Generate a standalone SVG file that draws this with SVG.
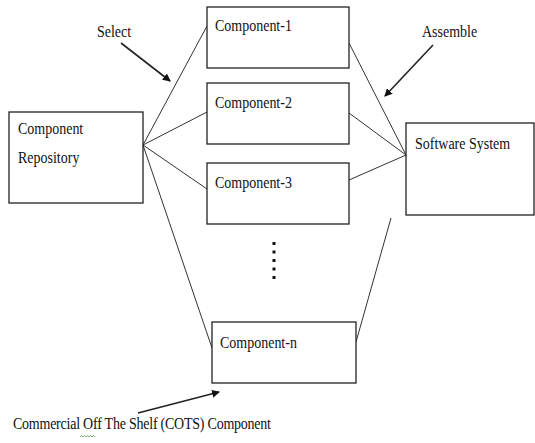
<svg xmlns="http://www.w3.org/2000/svg" width="535" height="443" viewBox="0 0 535 443">
<style>
.box{fill:#fff;stroke:#222;stroke-width:1.3}
text{font-family:'Liberation Serif','DejaVu Serif',serif;font-size:14px;fill:#111}
.ln{stroke:#333;stroke-width:1;fill:none}
.ar{stroke:#222;stroke-width:1.6;fill:none;marker-end:url(#ah)}
</style>
<defs>
<marker id="ah" markerWidth="8" markerHeight="8" refX="7" refY="4" orient="auto" markerUnits="userSpaceOnUse" viewBox="0 0 8 8">
<path d="M0,0 L8,4 L0,8 z" fill="#111"/>
</marker>
</defs>
<rect width="535" height="443" fill="#fff"/>
<g id="connectors">
<line class="ln" x1="143" y1="145" x2="207" y2="26"/>
<line class="ln" x1="143" y1="145" x2="207" y2="112"/>
<line class="ln" x1="143" y1="145" x2="207" y2="189"/>
<line class="ln" x1="143" y1="145" x2="212" y2="348"/>
<line class="ln" x1="349" y1="43" x2="406" y2="155"/>
<line class="ln" x1="349" y1="113" x2="406" y2="155"/>
<line class="ln" x1="349" y1="180" x2="406" y2="155"/>
<line class="ln" x1="356" y1="342" x2="391" y2="218"/>
<line class="ar" x1="121" y1="43" x2="170" y2="81"/>
<line class="ar" x1="433" y1="45" x2="385" y2="96"/>
<line class="ar" x1="138" y1="413" x2="219" y2="392"/>
<line x1="274" y1="242" x2="274" y2="283" stroke="#111" stroke-width="3" stroke-dasharray="3 5.5"/>
</g>
<g id="repo"><rect class="box" x="9" y="112" width="134" height="91"/><text transform="translate(18,134) scale(1,1.25)">Component</text><text transform="translate(18,163) scale(1,1.25)">Repository</text></g>
<g id="c1"><rect class="box" x="207" y="7" width="142" height="61"/><text transform="translate(215,31) scale(1,1.25)">Component-1</text></g>
<g id="c2"><rect class="box" x="207" y="83" width="142" height="61"/><text transform="translate(215,108) scale(1,1.25)">Component-2</text></g>
<g id="c3"><rect class="box" x="207" y="163" width="142" height="61"/><text transform="translate(215,188) scale(1,1.25)">Component-3</text></g>
<g id="cn"><rect class="box" x="212" y="322" width="144" height="61"/><text transform="translate(220,348) scale(1,1.25)">Component-n</text></g>
<g id="sys"><rect class="box" x="406" y="123" width="128" height="92"/><text transform="translate(415,149) scale(1,1.25)">Software System</text></g>
<g id="labels">
<text transform="translate(97,37) scale(1,1.25)">Select</text>
<text transform="translate(422,37) scale(1,1.25)">Assemble</text>
<text transform="translate(13,429) scale(1,1.25)" textLength="258">Commercial Off The Shelf (COTS) Component</text>
<path d="M80,437 l1.5,-1.5 l1.5,1.5 l1.5,-1.5 l1.5,1.5 l1.5,-1.5 l1.5,1.5 l1.5,-1.5 l1.5,1.5 l1.5,-1.5 l1.5,1.5" fill="none" stroke="#4a9a3a" stroke-width="0.8"/>
</g>
</svg>
